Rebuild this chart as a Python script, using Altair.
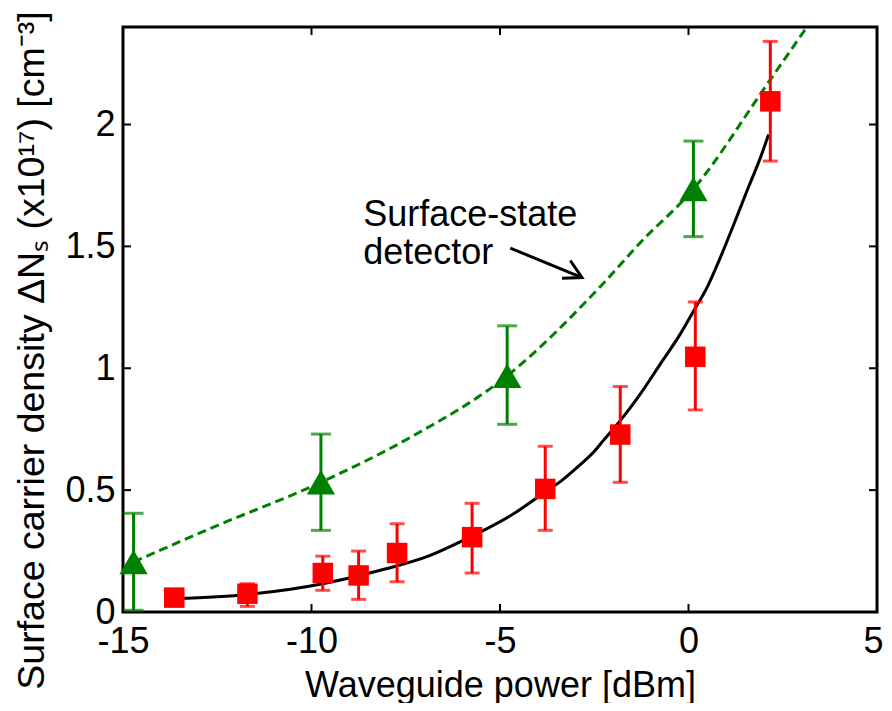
import altair as alt
import pandas as pd

# Red squares: measured carrier density with error bars
sq_x = [-13.64, -11.70, -9.70, -8.75, -7.73, -5.74, -3.80, -1.81, 0.18, 2.17]
sq_y = [0.059, 0.075, 0.160, 0.150, 0.242, 0.307, 0.505, 0.728, 1.047, 2.095]
sq_lo = [0.059, 0.023, 0.089, 0.052, 0.124, 0.160, 0.335, 0.532, 0.829, 1.850]
sq_hi = [0.059, 0.116, 0.229, 0.250, 0.362, 0.446, 0.680, 0.925, 1.272, 2.341]

# Green triangles: surface-state detector
tr_x = [-14.72, -9.75, -4.81, 0.13]
tr_y = [0.205, 0.532, 0.969, 1.735]
tr_lo = [0.007, 0.335, 0.770, 1.540]
tr_hi = [0.405, 0.730, 1.174, 1.932]

# Black model curve
fit_x = [-13.6, -11.7, -9.7, -8.175, -6.85, -5.97, -4.64, -3.75, -3.4, -2.87, -2.52, -2.25, -1.81,
         -1.28, -0.75, -0.22, 0.135, 0.49, 0.844, 1.2, 1.55, 1.905, 2.125]
fit_y = [0.055, 0.072, 0.116, 0.171, 0.232, 0.294, 0.403, 0.498, 0.535, 0.605, 0.655, 0.705, 0.785,
         0.894, 1.017, 1.140, 1.235, 1.331, 1.454, 1.590, 1.727, 1.863, 1.959]

# Green dashed curve
dash_x = [-14.72, -12.68, -9.75, -7.37, -4.81, -2.28, -1.28, 0.13, 2.08, 3.14]
dash_y = [0.205, 0.343, 0.532, 0.717, 0.969, 1.345, 1.515, 1.735, 2.164, 2.40]

# Annotation
ann_lines = ["Surface-state", "detector"]
ann_x = [-8.63, -8.63]
ann_y = [1.584, 1.428]
arrow_x = [-4.727, -2.825]
arrow_y = [1.493, 1.372]
head_x = [-3.355, -2.825, -3.135]
head_y = [1.369, 1.372, 1.442]

x_ticks = [-15, -10, -5, 0, 5]
y_ticks = [0, 0.5, 1, 1.5, 2]

W, H = 754, 585
FONT = "Liberation Sans"
FS = 36
RED = "#ff0000"
GREEN = "#008000"
XT = "Waveguide power [dBm]"
YT = "Surface carrier density ΔNₛ (x10¹⁷) [cm⁻³]"

xs = alt.Scale(domain=[-15, 5], nice=False, zero=False)
ys = alt.Scale(domain=[0, 2.4], nice=False, zero=False)

XAX = alt.Axis(
    values=x_ticks, labelExpr="toString(datum.value)", tickSize=0, domain=False, grid=False,
    labelFlush=False, labelFontSize=FS, labelFont=FONT, labelColor="black", labelPadding=12,
    labelOffset=alt.ExprRef(expr="datum.value == 5 ? -4 : 0"),
    titleFontSize=FS, titleFont=FONT, titleFontWeight="normal",
    titleColor="black", titleBaseline="alphabetic", titleY=84, titleX=W / 2)
YAX = alt.Axis(
    values=y_ticks, labelExpr="toString(datum.value)", tickSize=0, domain=False, grid=False,
    labelFlush=False, labelFontSize=FS, labelFont=FONT, labelColor="black", labelPadding=8,
    titleFontSize=37.5, titleFont=FONT,
    titleFontWeight="normal", titleColor="black", titleBaseline="alphabetic",
    titleAngle=270, titleX=-80, titleY=323, titleAlign="center")

sq = pd.DataFrame({"x": sq_x, "y": sq_y, "lo": sq_lo, "hi": sq_hi})
tr = pd.DataFrame({"x": tr_x, "y": tr_y, "lo": tr_lo, "hi": tr_hi})
fit = pd.DataFrame({"x": fit_x, "y": fit_y, "o": range(len(fit_x))})
dsh = pd.DataFrame({"x": dash_x, "y": dash_y, "o": range(len(dash_x))})
ann = pd.DataFrame({"x": ann_x, "y": ann_y, "t": ann_lines})
arr = pd.DataFrame({"x": arrow_x, "y": arrow_y, "o": [0, 1]})
head = pd.DataFrame({"x": head_x, "y": head_y, "o": [0, 1, 2]})
xt = pd.DataFrame({"v": x_ticks})
yt = pd.DataFrame({"v": y_ticks})


def X(f="x"):
    return alt.X(f"{f}:Q", scale=xs, axis=XAX, title=XT)


def Y(f="y"):
    return alt.Y(f"{f}:Q", scale=ys, axis=YAX, title=YT)


base_axes = alt.Chart(xt).mark_point(opacity=0).encode(x=X("v"), y=Y("v"))

TL = 8
tick_b = alt.Chart(xt).mark_rule(color="black", strokeWidth=2).encode(
    x=X("v"), y=alt.value(H), y2=alt.value(H - TL))
tick_t = alt.Chart(xt).mark_rule(color="black", strokeWidth=2).encode(
    x=X("v"), y=alt.value(0), y2=alt.value(TL))
tick_l = alt.Chart(yt).mark_rule(color="black", strokeWidth=2).encode(
    y=Y("v"), x=alt.value(0), x2=alt.value(TL))
tick_r = alt.Chart(yt).mark_rule(color="black", strokeWidth=2).encode(
    y=Y("v"), x=alt.value(W), x2=alt.value(W - TL))

dash_line = alt.Chart(dsh).mark_line(color=GREEN, strokeWidth=3, strokeDash=[9, 5], clip=True,
                                     interpolate="monotone").encode(x=X(), y=Y(), order="o:Q")
fit_line = alt.Chart(fit).mark_line(color="black", strokeWidth=3, interpolate="monotone").encode(
    x=X(), y=Y(), order="o:Q")

sq_bar = alt.Chart(sq).mark_rule(color=RED, strokeWidth=3).encode(x=X(), y=Y("lo"), y2="hi:Q")
sq_cap_lo = alt.Chart(sq).mark_tick(color=RED, orient="horizontal", size=15, thickness=3).encode(x=X(), y=Y("lo"))
sq_cap_hi = alt.Chart(sq).mark_tick(color=RED, orient="horizontal", size=15, thickness=3).encode(x=X(), y=Y("hi"))
sq_pts = alt.Chart(sq).mark_point(shape="square", filled=True, color=RED, size=420, opacity=1).encode(x=X(), y=Y())

tr_bar = alt.Chart(tr).mark_rule(color=GREEN, strokeWidth=3).encode(x=X(), y=Y("lo"), y2="hi:Q")
tr_cap_lo = alt.Chart(tr).mark_tick(color=GREEN, orient="horizontal", size=20, thickness=3).encode(x=X(), y=Y("lo"))
tr_cap_hi = alt.Chart(tr).mark_tick(color=GREEN, orient="horizontal", size=20, thickness=3).encode(x=X(), y=Y("hi"))
tr_pts = alt.Chart(tr).mark_point(shape="triangle-up", filled=True, color=GREEN, size=800, opacity=1).encode(x=X(), y=Y())

ann_text = alt.Chart(ann).mark_text(align="left", baseline="alphabetic", font=FONT, fontSize=FS, color="black").encode(
    x=X(), y=Y(), text="t:N")
arrow = alt.Chart(arr).mark_line(color="black", strokeWidth=3).encode(x=X(), y=Y(), order="o:Q")
arrow_head = alt.Chart(head).mark_line(color="black", strokeWidth=3).encode(x=X(), y=Y(), order="o:Q")

chart = alt.layer(
    base_axes, tick_b, tick_t, tick_l, tick_r,
    dash_line, fit_line,
    sq_bar, sq_cap_lo, sq_cap_hi, sq_pts,
    tr_bar, tr_cap_lo, tr_cap_hi, tr_pts,
    ann_text, arrow, arrow_head,
).properties(
    width=W, height=H,
    background="white",
    autosize=alt.AutoSizeParams(type="none"),
    padding={"left": 115, "top": 19, "right": 7, "bottom": 91},
).configure_view(stroke="black", strokeWidth=3)

chart.save("out.html", embed_options={"renderer": "svg", "actions": False})
